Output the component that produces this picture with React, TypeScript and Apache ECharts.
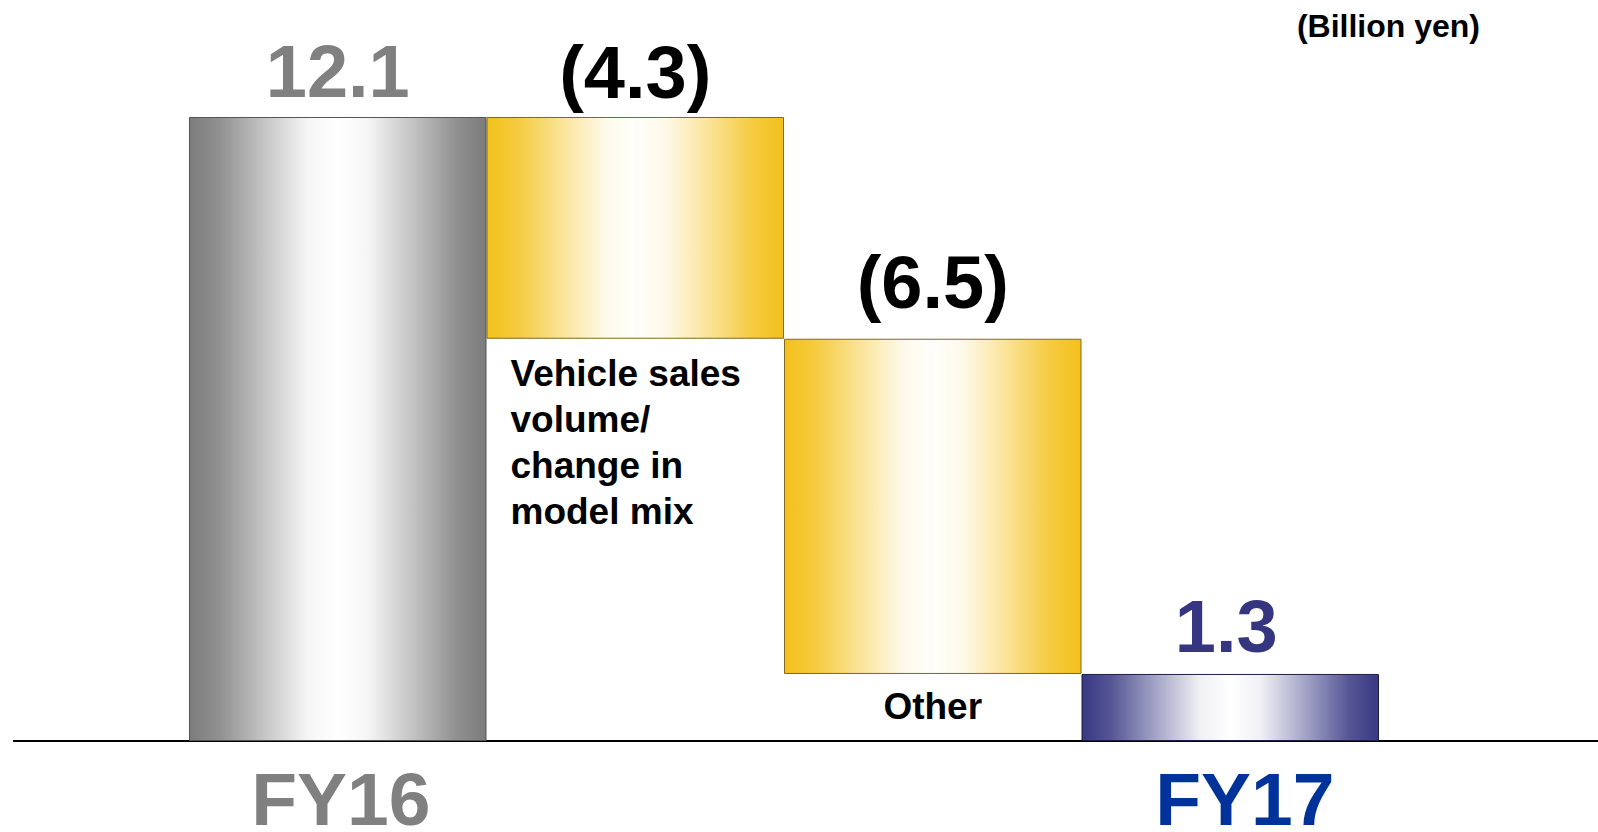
import React, { useEffect, useRef } from "react";
import * as echarts from "echarts";

const categories = ["FY16", "Vehicle sales volume/change in model mix", "Other", "FY17"];
const values = [12.1, -4.3, -6.5, 1.3];
const kinds = ["total", "delta", "delta", "total"];
const valueLabels = ["12.1", "(4.3)", "(6.5)", "1.3"];
const axisLabels = ["FY16", "", "", "FY17"];
const factorLabels = ["", "Vehicle sales\nvolume/\nchange in\nmodel mix", "Other", ""];
const unitLabel = "(Billion yen)";

const FONT = "Liberation Sans, Arial, Helvetica, sans-serif";

const hex = (c: string) => [1, 3, 5].map((i) => parseInt(c.slice(i, i + 2), 16));
const mix = (a: string, b: string, w: number) => {
  const A = hex(a);
  const B = hex(b);
  return "rgb(" + A.map((v, i) => Math.round(v + (B[i] - v) * w)).join(",") + ")";
};
const STOPS: [number, number][] = [
  [0, 0], [0.1, 0.15], [0.25, 0.55], [0.4, 0.93], [0.5, 1], [0.6, 0.93], [0.75, 0.55], [0.9, 0.15], [1, 0],
];
const grad = (edge: string, mid: string) =>
  new echarts.graphic.LinearGradient(
    0, 0, 1, 0,
    STOPS.map(([o, w]) => ({ offset: o, color: mix(edge, mid, w) }))
  );

export default function App() {
  const ref = useRef<HTMLDivElement>(null);
  useEffect(() => {
    document.body.style.margin = "0";
    const chart = echarts.init(ref.current!, null, { renderer: "svg" });

    let running = 0;
    const bases: number[] = [];
    const heights: number[] = [];
    values.forEach((v, i) => {
      if (kinds[i] === "total") {
        bases.push(0);
        heights.push(v);
        running = v;
      } else {
        const next = running + v;
        bases.push(Math.min(running, next));
        heights.push(Math.abs(v));
        running = next;
      }
    });

    const styles = [
      { fill: grad("#7c7c7c", "#ffffff"), border: "#555555", label: "#808080", dist: 5 },
      { fill: grad("#F3C11C", "#FFFEFA"), border: "#7f6a22", label: "#000000", dist: 4 },
      { fill: grad("#F3C11C", "#FFFEFA"), border: "#7f6a22", label: "#000000", dist: 16 },
      { fill: grad("#383884", "#ffffff"), border: "#1e1e44", label: "#363680", dist: 7 },
    ];

    const baseData = bases.map((b, i) => {
      const item: any = { value: b };
      if (factorLabels[i]) {
        const multi = factorLabels[i].includes("\n");
        item.label = {
          show: true,
          formatter: factorLabels[i],
          position: multi ? "insideTopLeft" : "inside",
          distance: multi ? 12 : 5,
          offset: multi ? [12, 0] : [0, -1],
          color: "#000",
          fontFamily: FONT,
          fontWeight: "bold",
          fontSize: 37,
          lineHeight: 46,
          align: multi ? "left" : "center",
        };
      }
      return item;
    });

    const barData = heights.map((h, i) => ({
      value: h,
      itemStyle: { color: styles[i].fill, borderColor: styles[i].border, borderWidth: 1 },
      label: {
        show: true,
        position: "top",
        distance: styles[i].dist,
        formatter: valueLabels[i],
        color: styles[i].label,
        fontFamily: FONT,
        fontWeight: "bold",
        fontSize: 74,
        lineHeight: 80,
        offset: i === 3 ? [-4, 0] : [0, 0],
      },
    }));

    chart.setOption({
      animation: false,
      grid: { left: 189, right: 219, top: 19, bottom: 91, outerBoundsMode: "none", containLabel: false },
      xAxis: {
        type: "category",
        data: categories,
        axisLine: { show: false },
        axisTick: { show: false },
        axisLabel: {
          margin: 28,
          interval: 0,
          formatter: (_: string, idx: number) =>
            axisLabels[idx] ? (idx === 0 ? "{a|" + axisLabels[idx] + "}" : "{b|" + axisLabels[idx] + "}") : "",
          rich: {
            a: { fontFamily: FONT, fontWeight: "bold", fontSize: 75, lineHeight: 60, color: "#808080", padding: [0, 0, 0, 6] },
            b: { fontFamily: FONT, fontWeight: "bold", fontSize: 75, lineHeight: 60, color: "#003399", padding: [0, 0, 0, 29] },
          },
        },
      },
      yAxis: { type: "value", min: 0, max: 14, show: false, splitLine: { show: false } },
      graphic: [
        {
          type: "line",
          z: 0,
          shape: { x1: 13, y1: 741, x2: 1598, y2: 741 },
          style: { stroke: "#000", lineWidth: 2 },
        },
        {
          type: "text",
          right: 118,
          top: 10,
          style: {
            text: unitLabel,
            fontFamily: FONT,
            fontWeight: "bold",
            fontSize: 32,
            fill: "#000",
          },
        },
      ],
      series: [
        {
          type: "bar",
          stack: "w",
          data: baseData,
          barCategoryGap: 0,
          itemStyle: { color: "transparent" },
          emphasis: { disabled: true },
          z: 3,
        },
        {
          type: "bar",
          stack: "w",
          data: barData,
          barCategoryGap: 0,
          z: 2,
        },
      ],
    });
    return () => chart.dispose();
  }, []);
  return (
    <div
      ref={ref}
      style={{ position: "absolute", left: 0, top: 0, width: 1598, height: 832, background: "#fff" }}
    />
  );
}
